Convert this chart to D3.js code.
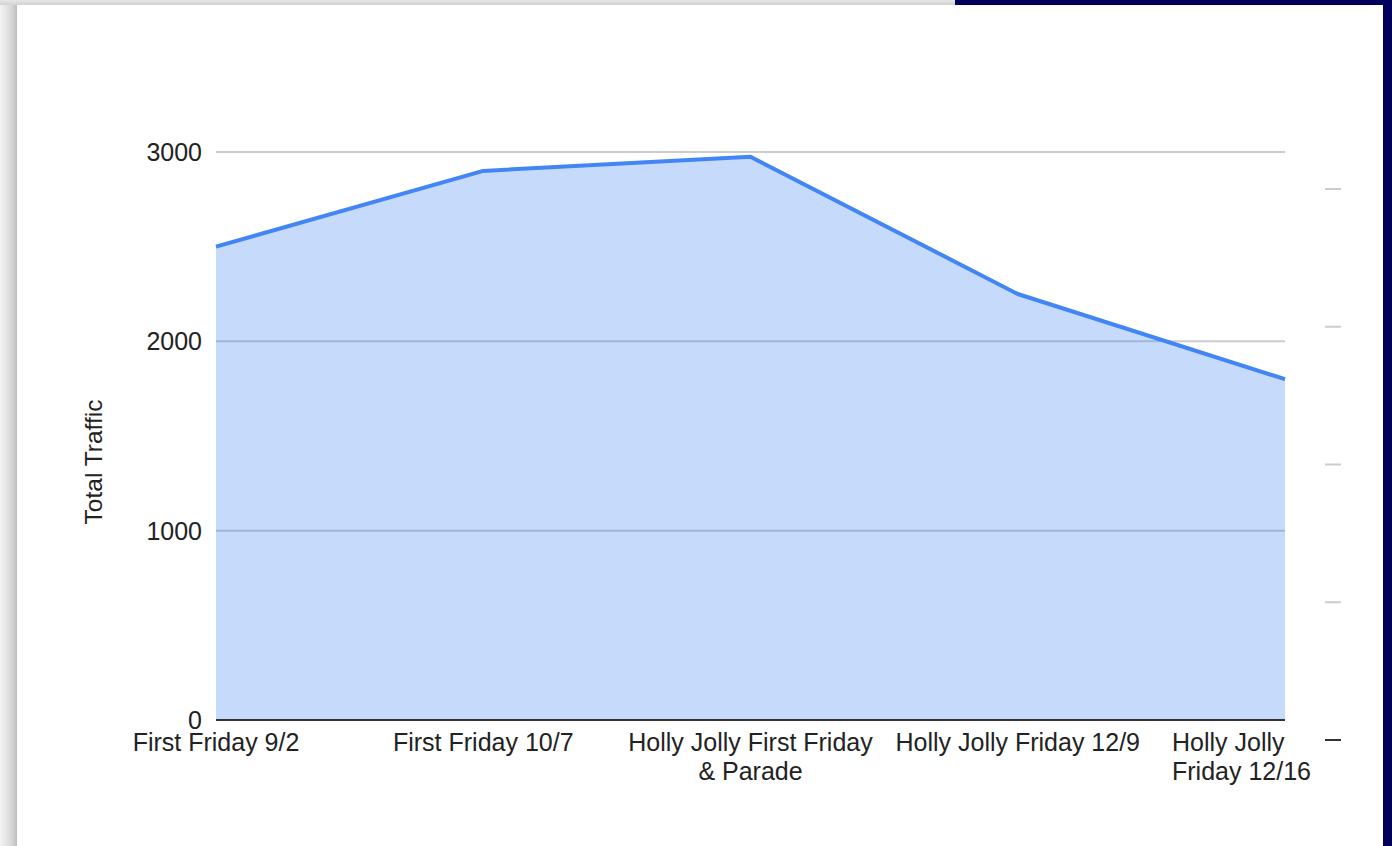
<!DOCTYPE html>
<meta charset="utf-8">
<style>
body { margin: 0; background: #fff; }
text { font-family: "Liberation Sans", Arial, sans-serif; fill: #222; }
</style>
<svg width="1392" height="846"></svg>
<script src="https://d3js.org/d3.v7.min.js"></script>
<script>
var events = ["First Friday 9/2", "First Friday 10/7", "Holly Jolly First Friday|& Parade", "Holly Jolly Friday 12/9", "Holly Jolly|Friday 12/16"];
var traffic = [2500, 2900, 2975, 2250, 1800];
var yTicks = [0, 1000, 2000, 3000];
var rightTicks = [0, 1, 2, 3, 4];

var svg = d3.select("svg");

// page frame: shadow left/top, navy edge top-right
var defs = svg.append("defs");
var gl = defs.append("linearGradient").attr("id", "shadeL");
gl.append("stop").attr("offset", "0%").attr("stop-color", "#f4f4f4");
gl.append("stop").attr("offset", "70%").attr("stop-color", "#d6d6d6");
gl.append("stop").attr("offset", "100%").attr("stop-color", "#bdbdbd");
var gt = defs.append("linearGradient").attr("id", "shadeT").attr("x2", 0).attr("y2", 1);
gt.append("stop").attr("offset", "0%").attr("stop-color", "#e6e6e6");
gt.append("stop").attr("offset", "100%").attr("stop-color", "#d2d2d2");

svg.append("rect").attr("x", 0).attr("y", 0).attr("width", 17).attr("height", 846).attr("fill", "url(#shadeL)");
svg.append("rect").attr("x", 0).attr("y", 0).attr("width", 955).attr("height", 5).attr("fill", "url(#shadeT)");
svg.append("rect").attr("x", 955).attr("y", 0).attr("width", 437).attr("height", 5).attr("fill", "#03005c");
svg.append("rect").attr("x", 1383).attr("y", 0).attr("width", 9).attr("height", 846).attr("fill", "#03005c");

var x = d3.scalePoint().domain(events).range([216, 1285]);
var y = d3.scaleLinear().domain([0, 3000]).range([720, 152]);
var yr = d3.scaleLinear().domain([0, 4]).range([740, 189]);

var data = events.map(function(e, i) { return {e: e, v: traffic[i]}; });

// gridlines
svg.append("g").selectAll("line")
    .data(yTicks.filter(function(d) { return d > 0; }))
  .enter().append("line")
    .attr("x1", 216).attr("x2", 1285)
    .attr("y1", function(d) { return y(d); })
    .attr("y2", function(d) { return y(d); })
    .attr("stroke", "#cccccc").attr("stroke-width", 2);

var area = d3.area()
    .x(function(d) { return x(d.e); })
    .y0(y(0))
    .y1(function(d) { return y(d.v); });

var line = d3.line()
    .x(function(d) { return x(d.e); })
    .y(function(d) { return y(d.v); });

svg.append("path").datum(data)
    .attr("d", area)
    .attr("fill", "#4285f4").attr("fill-opacity", 0.3);

svg.append("path").datum(data)
    .attr("d", line)
    .attr("fill", "none")
    .attr("stroke", "#4285f4").attr("stroke-width", 4)
    .attr("stroke-linejoin", "round");

// baseline
svg.append("line")
    .attr("x1", 216).attr("x2", 1285)
    .attr("y1", y(0)).attr("y2", y(0))
    .attr("stroke", "#333").attr("stroke-width", 2);

// y axis labels
svg.append("g").selectAll("text")
    .data(yTicks)
  .enter().append("text")
    .attr("x", 202)
    .attr("y", function(d) { return y(d); })
    .attr("dy", "0.36em")
    .attr("text-anchor", "end")
    .style("font-size", "25px")
    .text(function(d) { return d; });

svg.append("text")
    .attr("transform", "translate(102,462) rotate(-90)")
    .attr("text-anchor", "middle")
    .style("font-size", "24.5px")
    .text("Total Traffic");

// x axis labels
var xl = svg.append("g").selectAll("text")
    .data(events)
  .enter().append("text")
    .style("font-size", "25px")
    .attr("text-anchor", function(d, i) { return i === events.length - 1 ? "start" : "middle"; })
    .attr("transform", function(d, i) {
      var px = x(d) + (i === events.length - 1 ? -113 : 0);
      return "translate(" + px + ",751)";
    });
xl.each(function(d) {
  var t = d3.select(this);
  d.split("|").forEach(function(s, j) {
    t.append("tspan").attr("x", 0).attr("y", j * 29).text(s);
  });
});

// right-hand tick marks
svg.append("g").selectAll("line")
    .data(rightTicks)
  .enter().append("line")
    .attr("x1", 1325).attr("x2", 1341)
    .attr("y1", function(d) { return yr(d); })
    .attr("y2", function(d) { return yr(d); })
    .attr("stroke", function(d) { return d === 0 ? "#333" : "#cccccc"; })
    .attr("stroke-width", 2);
</script>
